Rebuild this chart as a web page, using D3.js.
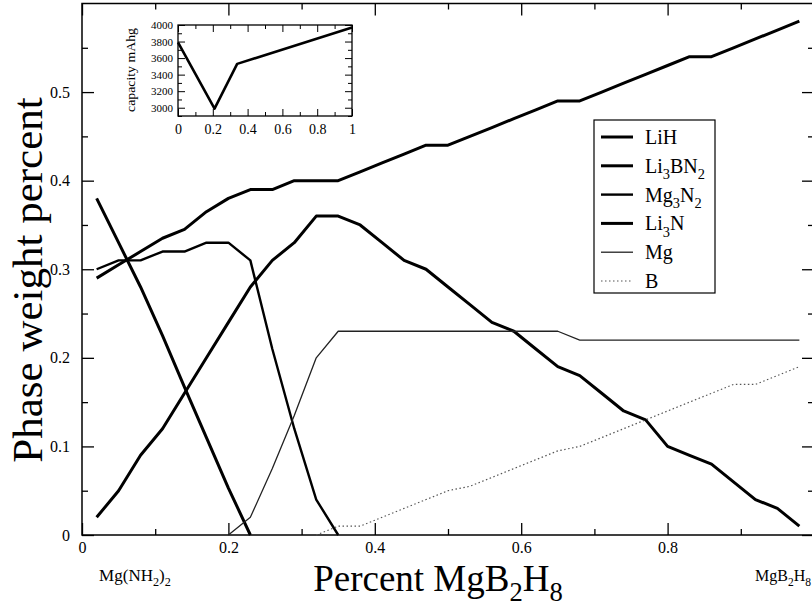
<!DOCTYPE html>
<meta charset="utf-8">
<style>
    body { margin: 0; background: #fff; }
    svg { display: block; }
    text { font-family: "Liberation Serif", "Times New Roman", serif; fill: #000; }
    .axis path { display: none; }
    .axis line { stroke: #000; stroke-width: 1.3; }
</style>

<body>
    <svg width="812" height="610"></svg>
    <script src="https://cdnjs.cloudflare.com/ajax/libs/d3/7.8.5/d3.min.js"></script>
    <script>
        // composition grid (fraction MgB2H8)
        var xGrid = [0.02, 0.05, 0.08, 0.11, 0.14, 0.17, 0.20, 0.23, 0.26, 0.29, 0.32,
            0.35, 0.38, 0.41, 0.44, 0.47, 0.50, 0.53, 0.56, 0.59, 0.62, 0.65,
            0.68, 0.71, 0.74, 0.77, 0.80, 0.83, 0.86, 0.89, 0.92, 0.95, 0.98];

        var names = ["LiH", "Li_3BN_2", "Mg_3N_2", "Li_3N", "Mg", "B"];

        var lih = [0.29, 0.305, 0.32, 0.335, 0.345, 0.365, 0.38, 0.39, 0.39, 0.40, 0.40,
            0.40, 0.41, 0.42, 0.43, 0.44, 0.44, 0.45, 0.46, 0.47, 0.48, 0.49,
            0.49, 0.50, 0.51, 0.52, 0.53, 0.54, 0.54, 0.55, 0.56, 0.57, 0.58];
        var li3bn2 = [0.02, 0.05, 0.09, 0.12, 0.16, 0.20, 0.24, 0.28, 0.31, 0.33, 0.36,
            0.36, 0.35, 0.33, 0.31, 0.30, 0.28, 0.26, 0.24, 0.23, 0.21, 0.19,
            0.18, 0.16, 0.14, 0.13, 0.10, 0.09, 0.08, 0.06, 0.04, 0.03, 0.01];
        var mg3n2 = [0.30, 0.31, 0.31, 0.32, 0.32, 0.33, 0.33, 0.31, 0.21, 0.12, 0.04,
            0.0, null, null, null, null, null, null, null, null, null, null,
            null, null, null, null, null, null, null, null, null, null, null];
        var li3n = [0.38, 0.33, 0.28, 0.225, 0.167, 0.11, 0.053, 0.0, null, null, null,
            null, null, null, null, null, null, null, null, null, null, null,
            null, null, null, null, null, null, null, null, null, null, null];
        var mg = [null, null, null, null, null, null, 0.0, 0.02, 0.075, 0.135, 0.20,
            0.23, 0.23, 0.23, 0.23, 0.23, 0.23, 0.23, 0.23, 0.23, 0.23, 0.23,
            0.22, 0.22, 0.22, 0.22, 0.22, 0.22, 0.22, 0.22, 0.22, 0.22, 0.22];
        var boron = [null, null, null, null, null, null, null, null, null, null, 0.0,
            0.01, 0.01, 0.02, 0.03, 0.04, 0.05, 0.055, 0.065, 0.075, 0.085, 0.095,
            0.10, 0.11, 0.12, 0.13, 0.14, 0.15, 0.16, 0.17, 0.17, 0.18, 0.19];

        var xTicks = [0, 0.2, 0.4, 0.6, 0.8];
        var xMinor = [0.1, 0.3, 0.5, 0.7, 0.9];
        var yTicks = [0, 0.1, 0.2, 0.3, 0.4, 0.5];
        var yMinor = [0.05, 0.15, 0.25, 0.35, 0.45, 0.55];

        // inset: capacity vs composition
        var insetX = [0, 0.21, 0.34, 1.0];
        var insetCap = [3790, 2990, 3530, 3970];
        var insetXTicks = [0, 0.2, 0.4, 0.6, 0.8, 1];
        var insetXMinor = [0.1, 0.3, 0.5, 0.7, 0.9];
        var insetYTicks = [3000, 3200, 3400, 3600, 3800, 4000];
        var insetYMinor = [2900, 3100, 3300, 3500, 3700, 3900];

        var seriesValues = [lih, li3bn2, mg3n2, li3n, mg, boron];
        var widths = [3, 3, 2.4, 3, 1.3, 1.2];
        var dashes = [null, null, null, null, null, "1.5,2.5"];
        var strokes = ["#000", "#000", "#000", "#000", "#222", "#555"];

        var svg = d3.select("svg");
        var x = d3.scaleLinear().domain([0, 1]).range([82, 814]);
        var y = d3.scaleLinear().domain([0, 0.6]).range([535, 3.5]);

        function fmt(d) { return d === 0 ? "0" : d3.format(".1f")(d); }

        // put text with _x subscripts
        function richText(sel, str, fs, shift) {
            var s = (shift || 0.32) * fs;
            var parts = str.split(/_(\w)/);
            parts.forEach(function (p, i) {
                if (p === "") return;
                var isSub = i % 2 === 1;
                var t = sel.append("tspan").text(p);
                if (isSub) {
                    t.attr("font-size", fs * 0.72).attr("dy", s);
                } else if (i > 0) {
                    t.attr("dy", -s);
                }
            });
        }

        // axes with inward ticks
        svg.append("g").attr("class", "axis")
            .attr("transform", "translate(0,535)")
            .call(d3.axisBottom(x).tickValues(xTicks).tickSize(-12).tickPadding(7).tickFormat(fmt))
            .selectAll("text").attr("font-size", 16).attr("font-family", "Liberation Serif");
        svg.append("g").attr("class", "axis")
            .attr("transform", "translate(0,535)")
            .call(d3.axisBottom(x).tickValues(xMinor).tickSize(-6).tickFormat(""));
        svg.append("g").attr("class", "axis")
            .attr("transform", "translate(0,3.5)")
            .call(d3.axisTop(x).tickValues(xTicks).tickSize(-12).tickFormat(""));
        svg.append("g").attr("class", "axis")
            .attr("transform", "translate(0,3.5)")
            .call(d3.axisTop(x).tickValues(xMinor).tickSize(-6).tickFormat(""));

        svg.append("g").attr("class", "axis")
            .attr("transform", "translate(82,0)")
            .call(d3.axisLeft(y).tickValues(yTicks).tickSize(-12).tickPadding(12).tickFormat(fmt))
            .selectAll("text").attr("font-size", 16).attr("font-family", "Liberation Serif");
        svg.append("g").attr("class", "axis")
            .attr("transform", "translate(82,0)")
            .call(d3.axisLeft(y).tickValues(yMinor).tickSize(-6).tickFormat(""));
        svg.append("g").attr("class", "axis")
            .attr("transform", "translate(814,0)")
            .call(d3.axisRight(y).tickValues(yTicks).tickSize(-12).tickFormat(""));
        svg.append("g").attr("class", "axis")
            .attr("transform", "translate(814,0)")
            .call(d3.axisRight(y).tickValues(yMinor).tickSize(-6).tickFormat(""));

        svg.append("rect")
            .attr("x", 82).attr("y", 3.5)
            .attr("width", 732).attr("height", 531.5)
            .attr("fill", "none").attr("stroke", "#000").attr("stroke-width", 1.5);

        // curves
        var line = d3.line()
            .defined(function (d) { return d[1] !== null; })
            .x(function (d) { return x(d[0]); })
            .y(function (d) { return y(d[1]); });

        seriesValues.forEach(function (vals, i) {
            var pts = xGrid.map(function (xv, j) { return [xv, vals[j]]; });
            svg.append("path")
                .datum(pts)
                .attr("fill", "none")
                .attr("stroke", strokes[i])
                .attr("stroke-width", widths[i])
                .attr("stroke-dasharray", dashes[i])
                .attr("stroke-linejoin", "round")
                .attr("d", line);
        });

        // legend
        var leg = svg.append("g");
        leg.append("rect")
            .attr("x", 594).attr("y", 120).attr("width", 121).attr("height", 173)
            .attr("fill", "#fff").attr("stroke", "#000").attr("stroke-width", 1.2);
        var ly = d3.scalePoint().domain(names).range([137, 281]);
        names.forEach(function (n, i) {
            leg.append("line")
                .attr("x1", 601).attr("x2", 633)
                .attr("y1", ly(n)).attr("y2", ly(n))
                .attr("stroke", strokes[i])
                .attr("stroke-width", widths[i])
                .attr("stroke-dasharray", dashes[i]);
            var t = leg.append("text")
                .attr("x", 645).attr("y", ly(n) + 7)
                .attr("font-size", 20);
            richText(t, n, 20);
        });

        // axis titles
        svg.append("text")
            .attr("transform", "translate(42,280) rotate(-90)")
            .attr("text-anchor", "middle")
            .attr("font-size", 43)
            .text("Phase weight percent");

        var xt = svg.append("text")
            .attr("x", 438).attr("y", 591)
            .attr("text-anchor", "middle")
            .attr("font-size", 37);
        richText(xt, "Percent MgB_2H_8", 37, 0.26);

        var endL = svg.append("text")
            .attr("x", 135).attr("y", 581)
            .attr("text-anchor", "middle")
            .attr("font-size", 17);
        richText(endL, "Mg(NH_2)_2", 17);

        var endR = svg.append("text")
            .attr("x", 783).attr("y", 581)
            .attr("text-anchor", "middle")
            .attr("font-size", 16);
        richText(endR, "MgB_2H_8", 16);

        // inset
        var ix = d3.scaleLinear().domain([0, 1]).range([178, 352]);
        var iy = d3.scaleLinear().domain([2900, 4000]).range([116, 25]);
        var inset = svg.append("g");
        inset.append("rect")
            .attr("x", 178).attr("y", 25).attr("width", 174).attr("height", 91)
            .attr("fill", "#fff");

        inset.append("g").attr("class", "axis")
            .attr("transform", "translate(0,116)")
            .call(d3.axisBottom(ix).tickValues(insetXTicks).tickSize(-7).tickPadding(8)
                .tickFormat(function (d) { return d === 0 || d === 1 ? String(d) : d3.format(".1f")(d); }))
            .selectAll("text").attr("font-size", 14).attr("font-family", "Liberation Serif");
        inset.append("g").attr("class", "axis")
            .attr("transform", "translate(0,116)")
            .call(d3.axisBottom(ix).tickValues(insetXMinor).tickSize(-4).tickFormat(""));
        inset.append("g").attr("class", "axis")
            .attr("transform", "translate(0,25)")
            .call(d3.axisTop(ix).tickValues(insetXTicks).tickSize(-7).tickFormat(""));
        inset.append("g").attr("class", "axis")
            .attr("transform", "translate(0,25)")
            .call(d3.axisTop(ix).tickValues(insetXMinor).tickSize(-4).tickFormat(""));
        inset.append("g").attr("class", "axis")
            .attr("transform", "translate(178,0)")
            .call(d3.axisLeft(iy).tickValues(insetYTicks).tickSize(-7).tickPadding(5).tickFormat(d3.format("d")))
            .selectAll("text").attr("font-size", 11).attr("font-family", "Liberation Serif");
        inset.append("g").attr("class", "axis")
            .attr("transform", "translate(178,0)")
            .call(d3.axisLeft(iy).tickValues(insetYMinor).tickSize(-4).tickFormat(""));
        inset.append("g").attr("class", "axis")
            .attr("transform", "translate(352,0)")
            .call(d3.axisRight(iy).tickValues(insetYTicks).tickSize(-7).tickFormat(""));
        inset.append("g").attr("class", "axis")
            .attr("transform", "translate(352,0)")
            .call(d3.axisRight(iy).tickValues(insetYMinor).tickSize(-4).tickFormat(""));
        inset.selectAll(".axis line").style("stroke-width", 1);

        inset.append("rect")
            .attr("x", 178).attr("y", 25).attr("width", 174).attr("height", 91)
            .attr("fill", "none").attr("stroke", "#000").attr("stroke-width", 1.3);

        inset.append("path")
            .datum(insetX.map(function (d, i) { return [d, insetCap[i]]; }))
            .attr("fill", "none").attr("stroke", "#000").attr("stroke-width", 2.6)
            .attr("stroke-linejoin", "round")
            .attr("d", d3.line()
                .x(function (d) { return ix(d[0]); })
                .y(function (d) { return iy(d[1]); }));

        inset.append("text")
            .attr("transform", "translate(135,70) rotate(-90)")
            .attr("text-anchor", "middle")
            .attr("font-size", 12)
            .attr("textLength", 84)
            .attr("lengthAdjust", "spacingAndGlyphs")
            .text("capacity mAhg");
    </script>
</body>
